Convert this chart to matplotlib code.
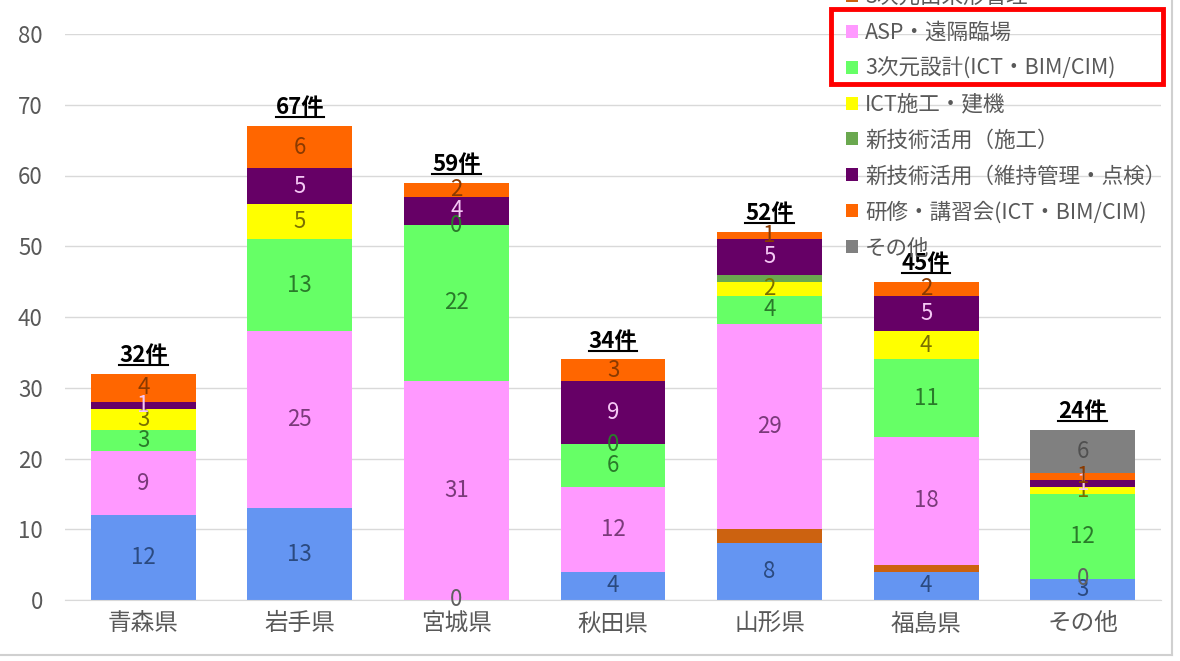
import matplotlib
matplotlib.use('Agg')
import matplotlib.pyplot as plt
import numpy as np
from matplotlib.lines import Line2D
from matplotlib.patches import Rectangle

plt.rcParams['font.family'] = ['Noto Sans CJK JP', 'DejaVu Sans']

# Data
categories = ['青森県', '岩手県', '宮城県', '秋田県', '山形県', '福島県', 'その他']
series_names = ['3次元測量', '3次元出来形管理', 'ASP・遠隔臨場', '3次元設計(ICT・BIM/CIM)',
                'ICT施工・建機', '新技術活用（施工）', '新技術活用（維持管理・点検）',
                '研修・講習会(ICT・BIM/CIM)', 'その他']
survey = [12, 13, 0, 4, 8, 4, 3]
dekigata = [0, 0, 0, 0, 2, 1, 0]
asp = [9, 25, 31, 12, 29, 18, 0]
design = [3, 13, 22, 6, 4, 11, 12]
ict = [3, 5, 0, 0, 2, 4, 1]
newtech_build = [0, 0, 0, 0, 1, 0, 0]
newtech_maint = [1, 5, 4, 9, 5, 5, 1]
training = [4, 6, 2, 3, 1, 2, 1]
other = [0, 0, 0, 0, 0, 0, 6]
series = [survey, dekigata, asp, design, ict, newtech_build, newtech_maint, training, other]

colors = ['#6495F2', '#CC6210', '#FF99FF', '#66FF66', '#FFFF00', '#6AA84F', '#660066', '#FF6600', '#808080']
label_colors = ['#2B4A80', None, '#7A3A7A', '#2A7A2A', '#7A7000', None, '#F5C8F5', '#8A3A00', '#505050']
# zero values that still carry a label (series index, category index)
zero_labels = [(0, 2), (5, 2), (5, 3), (2, 6)]

fig = plt.figure(figsize=(11.8, 6.61), dpi=100)
ax = fig.add_axes([65 / 1180, 61 / 661, 1096 / 1180, 566 / 661])

x = np.arange(len(categories))
bottom = np.zeros(len(categories))
handles = []
for i, vals in enumerate(series):
    vals = np.array(vals, dtype=float)
    b = ax.bar(x, vals, 0.67, bottom=bottom, color=colors[i], label=series_names[i], zorder=2)
    handles.append(b)
    for j, v in enumerate(vals):
        show = (v > 0 and label_colors[i] is not None) or (i, j) in zero_labels
        if show:
            c = label_colors[i] if label_colors[i] else '#505050'
            if v == 0:
                c = '#606060' if i != 5 else '#2A7A2A'
            ax.text(x[j], bottom[j] + v / 2, f'{int(v)}', ha='center', va='center',
                    fontsize=16, color=c, zorder=3)
    bottom += vals

totals = bottom
total_texts = []
for j, t in enumerate(totals):
    tt = ax.annotate(f'{int(t)}件', (x[j], t), xytext=(0, 5), textcoords='offset points',
                     ha='center', va='bottom', fontsize=16, fontweight='bold', color='black', zorder=4)
    total_texts.append(tt)

ax.set_xlim(-0.5, 6.5)
ax.set_ylim(0, 80)
ax.set_yticks(range(0, 81, 10))
ax.set_xticks(x)
ax.set_xticklabels(categories, fontsize=17, color='#595959')
ax.tick_params(axis='y', labelsize=16, labelcolor='#595959', length=0, pad=16)
ax.tick_params(axis='x', length=0, pad=9)
ax.grid(axis='y', color='#D9D9D9', linewidth=1, zorder=0)
for s in ['top', 'right', 'left']:
    ax.spines[s].set_visible(False)
ax.spines['bottom'].set_color('#D9D9D9')

# Legend (top entries run off the top edge like the screenshot)
leg = ax.legend(handles=handles, loc='center left', bbox_to_anchor=(835 / 1180, 1 - 105 / 661),
                bbox_transform=fig.transFigure, frameon=False, fontsize=15.5,
                handlelength=0.55, handleheight=0.55, handletextpad=0.35, labelspacing=0.64,
                borderpad=0, labelcolor='#595959')

# Red highlight box
fig.add_artist(Rectangle((831 / 1180, 1 - 84 / 661), 332 / 1180, 75 / 661, fill=False,
                         edgecolor='#FF0000', linewidth=3.5, transform=fig.transFigure))

# Frame edges of the screenshot
fig.add_artist(Line2D([1172 / 1180, 1172 / 1180], [6 / 661, 1], color='#D0D0D0', lw=1.5, transform=fig.transFigure))
fig.add_artist(Line2D([0, 1172 / 1180], [6 / 661, 6 / 661], color='#D0D0D0', lw=1.5, transform=fig.transFigure))

# Underline the totals
fig.canvas.draw()
inv = fig.transFigure.inverted()
for tt in total_texts:
    bb = tt.get_window_extent()
    (x0, y0), (x1, y1) = inv.transform([[bb.x0, bb.y0 + 2], [bb.x1, bb.y1]])
    fig.add_artist(Line2D([x0, x1], [y0, y0], color='black', lw=1.5, transform=fig.transFigure))

fig.savefig('out.png', dpi=100)
